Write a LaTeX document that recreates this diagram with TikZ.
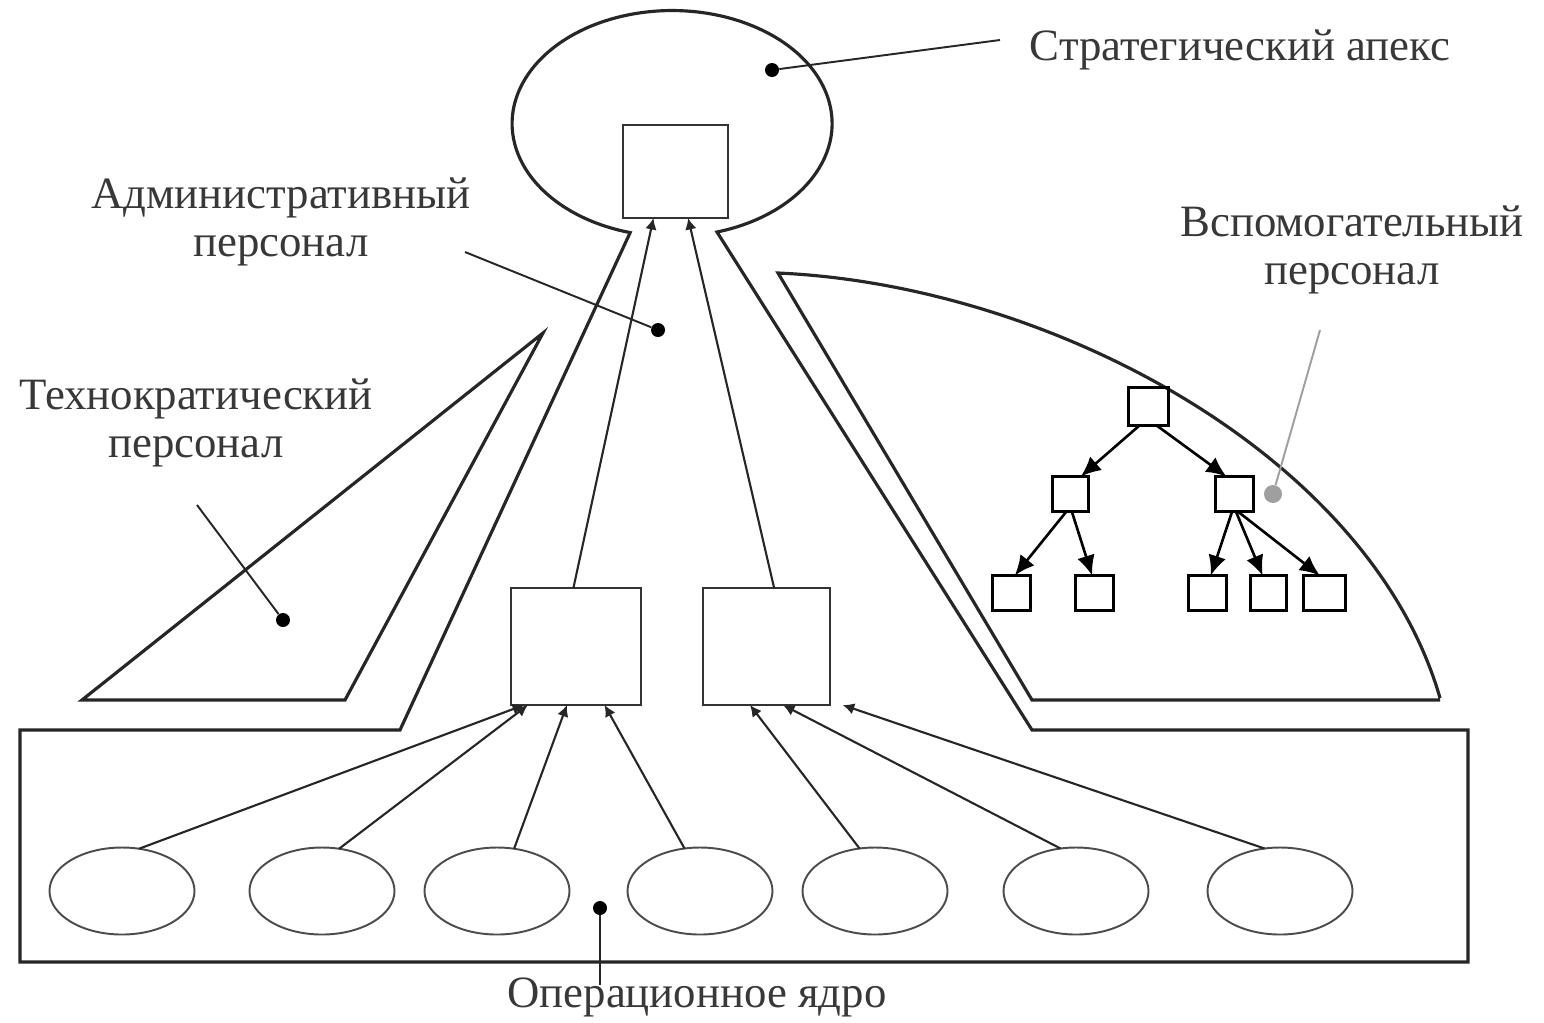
\documentclass[tikz,border=0pt]{standalone}
\usepackage{fontspec}
\setmainfont{Liberation Serif}
\usetikzlibrary{arrows.meta,calc,shapes.geometric}
\begin{document}
\begin{tikzpicture}[x=0.02cm,y=-0.02cm,
  contour/.style={draw=black!85, line width=1.8pt, line join=miter},
  unit/.style 2 args={draw=black!80, line width=1.2pt, rectangle, inner sep=0pt, outer sep=0pt,
    minimum width=#1*0.02cm, minimum height=#2*0.02cm},
  cell/.style={draw=black, line width=1.7pt, rectangle, inner sep=0pt, outer sep=0pt,
    minimum width=38*0.02cm, minimum height=35*0.02cm},
  worker/.style={draw=black!70, line width=1.1pt, ellipse, inner sep=0pt, outer sep=0pt,
    minimum width=145*0.02cm, minimum height=87*0.02cm},
  feed/.style={draw=black!85, line width=1.2pt, -{Latex[length=2.3mm,width=2.3mm]}},
  order/.style={draw=black, line width=1.5pt, -{Latex[length=4mm,width=3.6mm]}},
  lbl/.style={text=black!78, font=\fontsize{25.5}{27}\selectfont, align=center, inner sep=0pt},
  pin/.style={draw=black!85, line width=1.1pt},
  dot/.style={circle, fill=black, inner sep=0pt, minimum size=14*0.02cm}]

\useasboundingbox (0,0) rectangle (1544,1022);
\fill[white] (0,0) rectangle (1544,1022);

% operating core, middle line and strategic apex as one contour
\draw[contour] (400,730) -- (20,730) -- (20,962) -- (1468,962) -- (1468,730) -- (1032,730)
  -- (717,232) arc[start angle=73.7, end angle=-254.8, x radius=160, y radius=113] -- cycle;

% technostructure
\draw[contour] (82,700) -- (543,333) -- (345,700) -- cycle;

% support staff
\draw[contour] (1440,700) -- (1032,700) -- (778,273)
  .. controls (1050,285) and (1370,455) .. (1440,698);

% management units
\node[unit={105}{93}] (apex) at (675.5,171.5) {};
\node[unit={130}{117}] (lb) at (576,646.5) {};
\node[unit={127}{117}] (rb) at (766.5,646.5) {};

% operators
\foreach \i/\x in {1/122,2/322,3/497,4/700,5/875,6/1076,7/1280}
  \node[worker] (w\i) at (\x,891) {};

% reporting lines
\draw[feed] ($(lb.north west)!0.48!(lb.north east)$) -- ($(apex.south west)!0.29!(apex.south east)$);
\draw[feed] ($(rb.north west)!0.56!(rb.north east)$) -- ($(apex.south west)!0.62!(apex.south east)$);

\draw[feed] (w1.68) -- ($(lb.south west)!0.10!(lb.south east)$);
\draw[feed] (w2.68) -- ($(lb.south west)!0.13!(lb.south east)$);
\draw[feed] (w3.68) -- ($(lb.south west)!0.43!(lb.south east)$);
\draw[feed] (w4.110) -- ($(lb.south west)!0.72!(lb.south east)$);
\draw[feed] (w5.110) -- ($(rb.south west)!0.37!(rb.south east)$);
\draw[feed] (w6.110) -- ($(rb.south west)!0.63!(rb.south east)$);
\draw[feed] (w7.110) -- ($(rb.south west)!1.10!(rb.south east)$);

% support staff hierarchy
\node[cell, minimum width=40*0.02cm, minimum height=38*0.02cm] (t0) at (1148,406) {};
\node[cell, minimum width=36*0.02cm] (m1) at (1070,494) {};
\node[cell] (m2) at (1234,494) {};
\node[cell] (b1) at (1011,593) {};
\node[cell] (b2) at (1094,593) {};
\node[cell] (b3) at (1207,593) {};
\node[cell, minimum width=36*0.02cm] (b4) at (1268,593) {};
\node[cell, minimum width=42*0.02cm] (b5) at (1324,593) {};

\draw[order] ($(t0.south west)!0.30!(t0.south east)$) -- ($(m1.north west)!0.80!(m1.north east)$);
\draw[order] ($(t0.south west)!0.70!(t0.south east)$) -- ($(m2.north west)!0.30!(m2.north east)$);
\draw[order] ($(m1.south west)!0.40!(m1.south east)$) -- ($(b1.north west)!0.60!(b1.north east)$);
\draw[order] ($(m1.south west)!0.55!(m1.south east)$) -- ($(b2.north west)!0.45!(b2.north east)$);
\draw[order] ($(m2.south west)!0.45!(m2.south east)$) -- ($(b3.north west)!0.60!(b3.north east)$);
\draw[order] ($(m2.south west)!0.55!(m2.south east)$) -- ($(b4.north west)!0.35!(b4.north east)$);
\draw[order] ($(m2.south west)!0.60!(m2.south east)$) -- ($(b5.north west)!0.40!(b5.north east)$);

% labels with leaders
\node[dot] (dApex) at (772,70) {};
\coordinate (lApex) at (1000,40);
\draw[pin] (lApex) -- (dApex);
\node[lbl] (tApex) at (1240,50) {Стратегический апекс};

\node[dot] (dAdm) at (658,330) {};
\coordinate (lAdm) at (465,252);
\draw[pin] (lAdm) -- (dAdm);
\node[lbl] (tAdm) at (281,222) {Административный\\персонал};

\node[dot] (dTech) at (283,620) {};
\coordinate (lTech) at (197,505);
\draw[pin] (lTech) -- (dTech);
\node[lbl] (tTech) at (196,423) {Технократический\\персонал};

\node[dot, fill=gray!75, minimum size=18*0.02cm] (dSup) at (1273,494) {};
\coordinate (lSup) at (1320,330);
\draw[pin, draw=gray!75] (lSup) -- (dSup);
\node[lbl] (tSup) at (1352,250) {Вспомогательный\\персонал};

\node[dot] (dOp) at (600,908) {};
\coordinate (lOp) at (600,985);
\draw[pin] (dOp) -- (lOp);
\node[lbl] (tOp) at (697,997) {Операционное ядро};

\end{tikzpicture}
\end{document}
